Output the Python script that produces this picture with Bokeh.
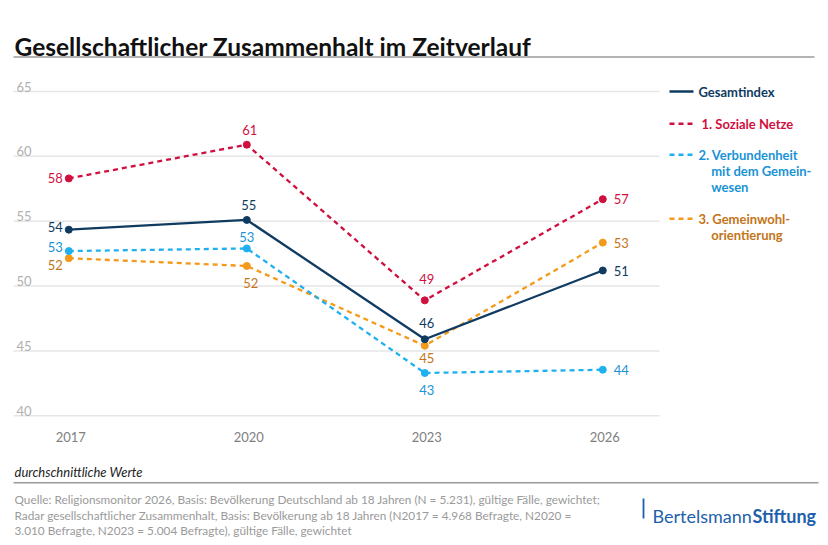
from bokeh.plotting import figure
from bokeh.models import Range1d
from bokeh.embed import file_html
from bokeh.resources import INLINE
from bokeh.core.properties import value

# ---------------- data ----------------
years = [2017, 2020, 2023, 2026]
year_labels = ["2017", "2020", "2023", "2026"]
y_ticks = [40, 45, 50, 55, 60, 65]

gesamt = [54.35, 55.1, 45.9, 51.2]
soziale = [58.3, 60.9, 48.9, 56.7]
verbund = [52.7, 52.9, 43.3, 43.55]
gemein = [52.15, 51.55, 45.4, 53.35]

gesamt_lbl = ["54", "55", "46", "51"]
soziale_lbl = ["58", "61", "49", "57"]
verbund_lbl = ["53", "53", "43", "44"]
gemein_lbl = ["52", "52", "45", "53"]

legend_gesamt = ["Gesamtindex"]
legend_soziale = ["1. Soziale Netze"]
legend_verbund = ["2. Verbundenheit", "mit dem Gemein-", "wesen"]
legend_gemein = ["3. Gemeinwohl-", "orientierung"]

title = "Gesellschaftlicher Zusammenhalt im Zeitverlauf"
note = "durchschnittliche Werte"
source = [
    "Quelle: Religionsmonitor 2026, Basis: Bevölkerung Deutschland ab 18 Jahren (N = 5.231), gültige Fälle, gewichtet;",
    "Radar gesellschaftlicher Zusammenhalt, Basis: Bevölkerung ab 18 Jahren (N2017 = 4.968 Befragte, N2020 =",
    "3.010 Befragte, N2023 = 5.004 Befragte), gültige Fälle, gewichtet",
]

# ---------------- styles ----------------
NAVY = "#0f3b61"
RED = "#d10f3f"
BLUE = "#1fb1ef"
BLUE_T = "#1a93d6"
ORANGE = "#f39a1a"
ORANGE_T = "#c47518"
FONT = value("Lato")

W, H = 820, 537
# pixel positions of reference points on canvas
PX_2017, PX_2026 = 68.3, 602.3
PY_40, PY_65 = 415.3, 91.0
px_per_year = (PX_2026 - PX_2017) / 9.0
x0 = 2017 - PX_2017 / px_per_year
x1 = x0 + W / px_per_year
px_per_unit = (PY_40 - PY_65) / 25.0
y_top = 65 + PY_65 / px_per_unit
y_bot = 40 - (H - PY_40) / px_per_unit

p = figure(width=W, height=H, output_backend="svg", toolbar_location=None,
           x_range=Range1d(x0, x1), y_range=Range1d(y_bot, y_top),
           min_border=0, outline_line_color=None, background_fill_color="white",
           border_fill_color="white")
p.axis.visible = False
p.grid.visible = False
p.extra_x_ranges = {"px": Range1d(0, W)}
p.extra_y_ranges = {"px": Range1d(H, 0)}

gx0 = x0 + 13 / px_per_year
gx1 = x0 + 659 / px_per_year

# gridlines
p.segment(x0=[gx0] * len(y_ticks), x1=[gx1] * len(y_ticks), y0=y_ticks, y1=y_ticks,
          line_color="#e6e6e6", line_width=1.5)
# y tick labels
p.text(x=[gx0] * len(y_ticks), y=y_ticks, text=[str(t) for t in y_ticks],
       x_offset=3, y_offset=-5, text_font=FONT, text_font_size="13px",
       text_color="#b0b0b0", text_baseline="alphabetic", text_align="left")
# x tick labels
p.text(x=years, y=[40] * len(years), text=year_labels, x_offset=2, y_offset=21,
       text_font=FONT, text_font_size="13px", text_color="#808080",
       text_baseline="alphabetic", text_align="center")

series = [
    (gemein, gemein_lbl, ORANGE, ORANGE_T, "5 4",
     [(-6, 7), (4, 17), (2, 12), (11, 0)]),
    (verbund, verbund_lbl, BLUE, BLUE_T, "5 4",
     [(-6, -4), (0, -11), (2, 17), (11, 0)]),
    (soziale, soziale_lbl, RED, RED, "5 4",
     [(-6, 0), (3, -15), (2, -21), (11, 0)]),
    (gesamt, gesamt_lbl, NAVY, NAVY, "solid",
     [(-6, -3), (2, -15), (2, -16), (11, 0)]),
]
aligns = ["right", "center", "center", "left"]

for vals, lbls, col, tcol, dash, offs in series:
    p.line(years, vals, line_color=col, line_width=2.3, line_dash=dash)
    p.scatter(years, vals, size=7, fill_color=col, line_color=col)
    for i in range(len(years)):
        p.text(x=[years[i]], y=[vals[i]], text=[lbls[i]], x_offset=offs[i][0],
               y_offset=offs[i][1], text_font=FONT, text_font_size="13px",
               text_color=tcol, text_align=aligns[i], text_baseline="middle")

R = dict(x_range_name="px", y_range_name="px")

# title + rules
p.text(x=[14], y=[46], text=[title], text_font=FONT, text_font_size="24.5px",
       text_font_style="bold", text_color="#111111", text_baseline="alphabetic", **R)
p.segment(x0=[13], x1=[814], y0=[56.5], y1=[56.5], line_color="#9a9a9a", line_width=1.5, **R)

# legend
leg = [
    (legend_gesamt, NAVY, NAVY, "solid", 91, 698),
    (legend_soziale, RED, RED, "5 4", 123.3, 701),
    (legend_verbund, BLUE, BLUE_T, "5 4", 154.3, 698),
    (legend_gemein, ORANGE, ORANGE_T, "5 4", 218.3, 698),
]
for lines, col, tcol, dash, ly, tx in leg:
    p.segment(x0=[669], x1=[693], y0=[ly], y1=[ly], line_color=col, line_width=2.5,
              line_dash=dash, **R)
    xs = [tx] + [710.7] * (len(lines) - 1)
    ys = [ly + 16 * k for k in range(len(lines))]
    p.text(x=xs, y=ys, text=lines, text_font=FONT, text_font_size="13px",
           text_font_style="bold", text_color=tcol, text_baseline="middle", **R)

# footer
p.text(x=[14], y=[471.5], text=[note], text_font=FONT, text_font_size="13px",
       text_font_style="italic", text_color="#222222", text_baseline="alphabetic", **R)
p.segment(x0=[13], x1=[818], y0=[482.3], y1=[482.3], line_color="#9a9a9a", line_width=1.5, **R)
p.text(x=[14] * 3, y=[499, 514.5, 530], text=source, text_font=FONT, text_font_size="11.8px",
       text_color="#9a9a9a", text_baseline="alphabetic", **R)

# logo
p.segment(x0=[643], x1=[643], y0=[498], y1=[518], line_color="#1d5fab", line_width=1.8, **R)
p.text(x=[652], y=[515], text=["Bertelsmann"], text_font=FONT, text_font_size="18px",
       text_color="#1d5fab", text_baseline="alphabetic", **R)
p.text(x=[752], y=[515], text=["Stiftung"], text_font=FONT, text_font_size="18px",
       text_font_style="bold", text_color="#1d5fab", text_baseline="alphabetic", **R)

open("out.html", "w").write(file_html(p, INLINE))
